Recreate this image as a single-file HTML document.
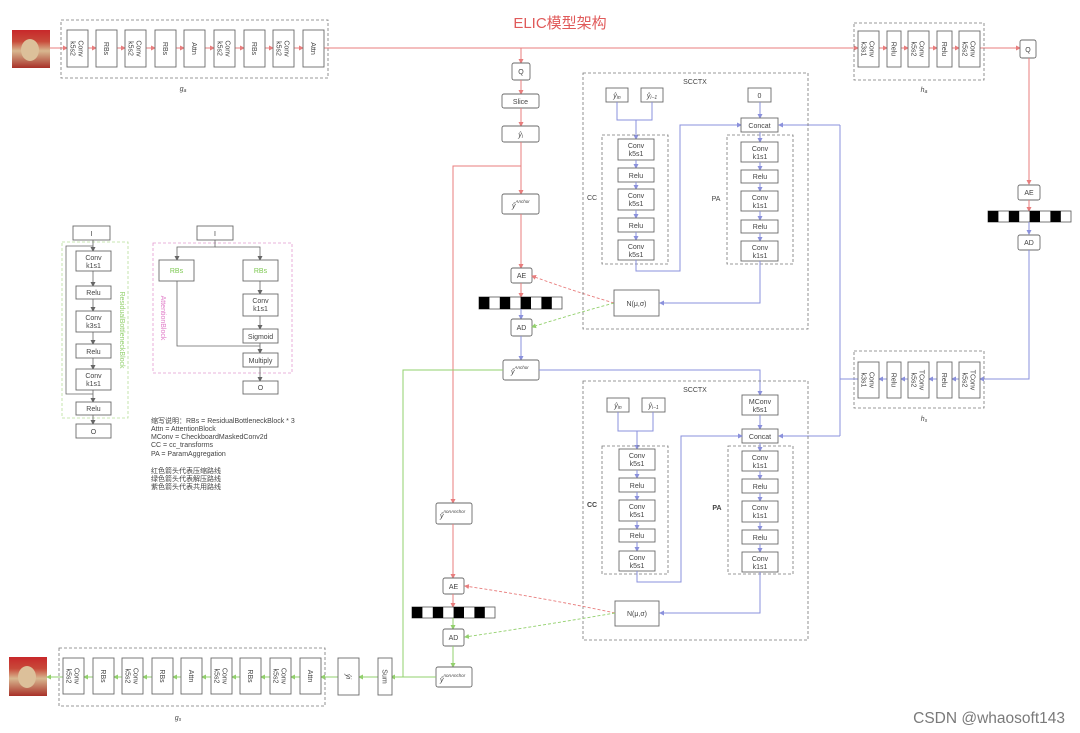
<!DOCTYPE html>
<html><head><meta charset="utf-8"><style>
html,body{margin:0;padding:0;background:#fff;}
svg{display:block;}
text{font-family:"Liberation Sans","Noto Sans CJK SC",sans-serif;fill:#444;}
.b{fill:#fff;stroke:#6a6a6a;stroke-width:0.9;}
.d{fill:none;stroke:#777;stroke-width:0.8;stroke-dasharray:3 2;}
.t{font-size:7px;text-anchor:middle;}
.r{stroke:#e87d7d;stroke-width:1;fill:none;}
.u{stroke:#8a90dc;stroke-width:1;fill:none;}
.g{stroke:#92d06c;stroke-width:1;fill:none;}
</style></head><body>
<svg width="1080" height="733" viewBox="0 0 1080 733" xmlns="http://www.w3.org/2000/svg">
<defs>
<marker id="mr" markerWidth="5" markerHeight="5" refX="4" refY="2.5" orient="auto" markerUnits="userSpaceOnUse"><path d="M0,0 L5,2.5 L0,5z" fill="#e87d7d"/></marker>
<marker id="mu" markerWidth="5" markerHeight="5" refX="4" refY="2.5" orient="auto" markerUnits="userSpaceOnUse"><path d="M0,0 L5,2.5 L0,5z" fill="#8a90dc"/></marker>
<marker id="mg" markerWidth="5" markerHeight="5" refX="4" refY="2.5" orient="auto" markerUnits="userSpaceOnUse"><path d="M0,0 L5,2.5 L0,5z" fill="#92d06c"/></marker>
<marker id="mk" markerWidth="5" markerHeight="5" refX="4" refY="2.5" orient="auto" markerUnits="userSpaceOnUse"><path d="M0,0 L5,2.5 L0,5z" fill="#666"/></marker>
<linearGradient id="face" x1="0" y1="0" x2="0" y2="1"><stop offset="0" stop-color="#c8282a"/><stop offset="0.3" stop-color="#c84a3a"/><stop offset="0.55" stop-color="#d8b890"/><stop offset="1" stop-color="#a83028"/></linearGradient>
</defs>

<text x="560" y="28" style="font-size:15px;fill:#e05a5a;text-anchor:middle">ELIC模型架构</text>

<rect x="12" y="30" width="38" height="38" fill="url(#face)"/>
<ellipse cx="30" cy="50" rx="9" ry="11" fill="#dcc09a"/>
<rect x="9" y="657" width="38" height="39" fill="url(#face)"/>
<ellipse cx="27" cy="677" rx="9" ry="11" fill="#dcc09a"/>

<rect class="d" x="61" y="20" width="267" height="58"/>
<text x="183" y="91" class="t" style="font-style:italic">g<tspan style="font-size:5px" dy="1">a</tspan></text>
<g class="r">
<line x1="50" y1="48" x2="67" y2="48" marker-end="url(#mr)"/>
<line x1="88" y1="48" x2="96" y2="48" marker-end="url(#mr)"/>
<line x1="117" y1="48" x2="125" y2="48" marker-end="url(#mr)"/>
<line x1="146" y1="48" x2="155" y2="48" marker-end="url(#mr)"/>
<line x1="176" y1="48" x2="184" y2="48" marker-end="url(#mr)"/>
<line x1="205" y1="48" x2="214" y2="48" marker-end="url(#mr)"/>
<line x1="235" y1="48" x2="244" y2="48" marker-end="url(#mr)"/>
<line x1="265" y1="48" x2="273" y2="48" marker-end="url(#mr)"/>
<line x1="294" y1="48" x2="303" y2="48" marker-end="url(#mr)"/>
<line x1="324" y1="48" x2="858" y2="48" marker-end="url(#mr)"/>
<line x1="879" y1="48" x2="887" y2="48" marker-end="url(#mr)"/>
<line x1="901" y1="48" x2="908" y2="48" marker-end="url(#mr)"/>
<line x1="929" y1="48" x2="937" y2="48" marker-end="url(#mr)"/>
<line x1="952" y1="48" x2="959" y2="48" marker-end="url(#mr)"/>
<line x1="980" y1="48" x2="1020" y2="48" marker-end="url(#mr)"/>
</g>
<g>
<rect class="b" x="67" y="30" width="21" height="37"/><rect class="b" x="96" y="30" width="21" height="37"/>
<rect class="b" x="125" y="30" width="21" height="37"/><rect class="b" x="155" y="30" width="21" height="37"/>
<rect class="b" x="184" y="30" width="21" height="37"/><rect class="b" x="214" y="30" width="21" height="37"/>
<rect class="b" x="244" y="30" width="21" height="37"/><rect class="b" x="273" y="30" width="21" height="37"/>
<rect class="b" x="303" y="30" width="21" height="37"/>
</g>
<g class="t">
<text transform="translate(77.5,48.5) rotate(90)"><tspan x="0" y="-1">Conv</tspan><tspan x="0" y="7">k5s2</tspan></text>
<text transform="translate(106.5,48.5) rotate(90)" y="2.5">RBs</text>
<text transform="translate(135.5,48.5) rotate(90)"><tspan x="0" y="-1">Conv</tspan><tspan x="0" y="7">k5s2</tspan></text>
<text transform="translate(165.5,48.5) rotate(90)" y="2.5">RBs</text>
<text transform="translate(194.5,48.5) rotate(90)" y="2.5">Attn</text>
<text transform="translate(224.5,48.5) rotate(90)"><tspan x="0" y="-1">Conv</tspan><tspan x="0" y="7">k5s2</tspan></text>
<text transform="translate(254.5,48.5) rotate(90)" y="2.5">RBs</text>
<text transform="translate(283.5,48.5) rotate(90)"><tspan x="0" y="-1">Conv</tspan><tspan x="0" y="7">k5s2</tspan></text>
<text transform="translate(313.5,48.5) rotate(90)" y="2.5">Attn</text>
</g>

<rect class="d" x="854" y="23" width="130" height="57"/>
<text x="924" y="92" class="t" style="font-style:italic">h<tspan style="font-size:5px" dy="1">a</tspan></text>
<rect class="b" x="858" y="31" width="21" height="36"/><rect class="b" x="887" y="31" width="14" height="36"/>
<rect class="b" x="908" y="31" width="21" height="36"/><rect class="b" x="937" y="31" width="15" height="36"/>
<rect class="b" x="959" y="31" width="21" height="36"/>
<g class="t">
<text transform="translate(868.5,49) rotate(90)"><tspan x="0" y="-1">Conv</tspan><tspan x="0" y="7">k3s1</tspan></text>
<text transform="translate(894,49) rotate(90)" y="2.5">Relu</text>
<text transform="translate(918.5,49) rotate(90)"><tspan x="0" y="-1">Conv</tspan><tspan x="0" y="7">k5s2</tspan></text>
<text transform="translate(944.5,49) rotate(90)" y="2.5">Relu</text>
<text transform="translate(969.5,49) rotate(90)"><tspan x="0" y="-1">Conv</tspan><tspan x="0" y="7">k5s2</tspan></text>
</g>
<rect class="b" x="1020" y="40" width="16" height="18" rx="2"/><text x="1028" y="52" class="t">Q</text>

<line class="r" x1="1029" y1="58" x2="1029" y2="184" marker-end="url(#mr)"/>
<rect class="b" x="1018" y="185" width="22" height="15" rx="2"/><text x="1029" y="195" class="t">AE</text>
<line class="r" x1="1029" y1="200" x2="1029" y2="211" marker-end="url(#mr)"/>
<g>
<rect x="988" y="211" width="83" height="11" fill="#fff" stroke="#555" stroke-width="0.8"/>
<rect x="988" y="211" width="10.4" height="11" fill="#000"/><rect x="1008.8" y="211" width="10.4" height="11" fill="#000"/>
<rect x="1029.6" y="211" width="10.4" height="11" fill="#000"/><rect x="1050.4" y="211" width="10.4" height="11" fill="#000"/>
</g>
<line class="u" x1="1029" y1="222" x2="1029" y2="234" marker-end="url(#mu)"/>
<rect class="b" x="1018" y="235" width="22" height="15" rx="2"/><text x="1029" y="245" class="t">AD</text>
<polyline class="u" points="1029,250 1029,379 984,379"/>

<rect class="d" x="854" y="351" width="130" height="57"/>
<text x="924" y="421" class="t" style="font-style:italic">h<tspan style="font-size:5px" dy="1">s</tspan></text>
<g class="u">
<line x1="984" y1="379" x2="980" y2="379" marker-end="url(#mu)"/>
<line x1="959" y1="379" x2="952" y2="379" marker-end="url(#mu)"/>
<line x1="937" y1="379" x2="929" y2="379" marker-end="url(#mu)"/>
<line x1="908" y1="379" x2="901" y2="379" marker-end="url(#mu)"/>
<line x1="887" y1="379" x2="879" y2="379" marker-end="url(#mu)"/>
<polyline points="858,379 840,379"/>
<polyline points="840,125 840,436"/>
<line x1="840" y1="125" x2="779" y2="125" marker-end="url(#mu)"/>
<line x1="840" y1="436" x2="779" y2="436" marker-end="url(#mu)"/>
</g>
<rect class="b" x="858" y="362" width="21" height="36"/><rect class="b" x="887" y="362" width="14" height="36"/>
<rect class="b" x="908" y="362" width="21" height="36"/><rect class="b" x="937" y="362" width="15" height="36"/>
<rect class="b" x="959" y="362" width="21" height="36"/>
<g class="t">
<text transform="translate(868.5,380) rotate(90)"><tspan x="0" y="-1">Conv</tspan><tspan x="0" y="7">k3s1</tspan></text>
<text transform="translate(894,380) rotate(90)" y="2.5">Relu</text>
<text transform="translate(918.5,380) rotate(90)"><tspan x="0" y="-1">TConv</tspan><tspan x="0" y="7">k5s2</tspan></text>
<text transform="translate(944.5,380) rotate(90)" y="2.5">Relu</text>
<text transform="translate(969.5,380) rotate(90)"><tspan x="0" y="-1">TConv</tspan><tspan x="0" y="7">k5s2</tspan></text>
</g>

<line class="r" x1="521" y1="48" x2="521" y2="63" marker-end="url(#mr)"/>
<rect class="b" x="512" y="63" width="18" height="17" rx="2"/><text x="521" y="74" class="t">Q</text>
<line class="r" x1="521" y1="80" x2="521" y2="94" marker-end="url(#mr)"/>
<rect class="b" x="502" y="94" width="37" height="14" rx="2"/><text x="520.5" y="104" class="t">Slice</text>
<line class="r" x1="521" y1="108" x2="521" y2="126" marker-end="url(#mr)"/>
<rect class="b" x="502" y="126" width="37" height="16" rx="2"/><text x="520.5" y="137" class="t" style="font-style:italic">ŷ<tspan style="font-size:5px" dy="1">i</tspan></text>
<line class="r" x1="521" y1="142" x2="521" y2="194" marker-end="url(#mr)"/>
<polyline class="r" points="521,166 453,166 453,503" marker-end="url(#mr)"/>
<rect class="b" x="502" y="194" width="37" height="20" rx="2"/><text x="512" y="208" style="font-size:7px;font-style:italic">ŷ<tspan style="font-size:4.5px" dy="-5">Anchor</tspan></text>
<line class="r" x1="521" y1="214" x2="521" y2="268" marker-end="url(#mr)"/>
<rect class="b" x="511" y="268" width="21" height="15" rx="2"/><text x="521.5" y="278" class="t">AE</text>
<line class="r" x1="521" y1="283" x2="521" y2="297" marker-end="url(#mr)"/>
<g>
<rect x="479" y="297" width="83" height="12" fill="#fff" stroke="#555" stroke-width="0.8"/>
<rect x="479" y="297" width="10.4" height="12" fill="#000"/><rect x="499.8" y="297" width="10.4" height="12" fill="#000"/>
<rect x="520.6" y="297" width="10.4" height="12" fill="#000"/><rect x="541.4" y="297" width="10.4" height="12" fill="#000"/>
</g>
<line class="u" x1="521" y1="309" x2="521" y2="319" marker-end="url(#mu)"/>
<rect class="b" x="511" y="319" width="21" height="17" rx="2"/><text x="521.5" y="330" class="t">AD</text>
<line class="u" x1="521" y1="336" x2="521" y2="360" marker-end="url(#mu)"/>
<rect class="b" x="503" y="360" width="36" height="20" rx="2"/><text x="511" y="374" style="font-size:7px;font-style:italic">ŷ<tspan style="font-size:4.5px" dy="-5">Anchor</tspan></text>
<polyline class="g" points="503,370 403,370 403,677"/>
<polyline class="u" points="539,370 760,370 760,395" marker-end="url(#mu)"/>
<path d="M614,303 Q570,290 532,276" fill="none" stroke="#e87d7d" stroke-width="0.9" stroke-dasharray="3 2" marker-end="url(#mr)"/>
<path d="M614,303 Q570,315 532,327" fill="none" stroke="#92d06c" stroke-width="0.9" stroke-dasharray="3 2" marker-end="url(#mg)"/>

<rect class="d" x="583" y="73" width="225" height="256"/>
<text x="695" y="84" class="t">SCCTX</text>
<rect class="b" x="606" y="88" width="22" height="14"/><text x="617" y="98" class="t" style="font-style:italic">ŷ<tspan style="font-size:5px" dy="1">in</tspan></text>
<rect class="b" x="641" y="88" width="22" height="14"/><text x="652" y="98" class="t" style="font-style:italic">ŷ<tspan style="font-size:5px" dy="1">i−1</tspan></text>
<polyline class="u" points="617,102 617,120 652,120 652,102"/>
<line class="u" x1="636" y1="120" x2="636" y2="139" marker-end="url(#mu)"/>
<rect class="d" x="602" y="135" width="66" height="129"/>
<text x="592" y="200" class="t">CC</text>
<rect class="b" x="618" y="139" width="36" height="21"/><text x="636" y="148" class="t"><tspan x="636">Conv</tspan><tspan x="636" dy="8">k5s1</tspan></text>
<line class="u" x1="636" y1="160" x2="636" y2="168" marker-end="url(#mu)"/>
<rect class="b" x="618" y="168" width="36" height="14"/><text x="636" y="178" class="t">Relu</text>
<line class="u" x1="636" y1="182" x2="636" y2="189" marker-end="url(#mu)"/>
<rect class="b" x="618" y="189" width="36" height="21"/><text x="636" y="198" class="t"><tspan x="636">Conv</tspan><tspan x="636" dy="8">k5s1</tspan></text>
<line class="u" x1="636" y1="210" x2="636" y2="218" marker-end="url(#mu)"/>
<rect class="b" x="618" y="218" width="36" height="14"/><text x="636" y="228" class="t">Relu</text>
<line class="u" x1="636" y1="232" x2="636" y2="240" marker-end="url(#mu)"/>
<rect class="b" x="618" y="240" width="36" height="20"/><text x="636" y="249" class="t"><tspan x="636">Conv</tspan><tspan x="636" dy="8">k5s1</tspan></text>
<polyline class="u" points="636,260 636,271 680,271 680,125 741,125" marker-end="url(#mu)"/>
<rect class="b" x="748" y="88" width="23" height="14"/><text x="759.5" y="98" class="t">0</text>
<line class="u" x1="760" y1="102" x2="760" y2="118" marker-end="url(#mu)"/>
<rect class="b" x="741" y="118" width="37" height="14"/><text x="759.5" y="128" class="t">Concat</text>
<rect class="d" x="727" y="135" width="66" height="129"/>
<text x="716" y="201" class="t">PA</text>
<line class="u" x1="760" y1="132" x2="760" y2="142" marker-end="url(#mu)"/>
<rect class="b" x="741" y="142" width="37" height="20"/><text x="760" y="151" class="t"><tspan x="760">Conv</tspan><tspan x="760" dy="8">k1s1</tspan></text>
<line class="u" x1="760" y1="162" x2="760" y2="170" marker-end="url(#mu)"/>
<rect class="b" x="741" y="170" width="37" height="13"/><text x="760" y="179" class="t">Relu</text>
<line class="u" x1="760" y1="183" x2="760" y2="191" marker-end="url(#mu)"/>
<rect class="b" x="741" y="191" width="37" height="20"/><text x="760" y="200" class="t"><tspan x="760">Conv</tspan><tspan x="760" dy="8">k1s1</tspan></text>
<line class="u" x1="760" y1="211" x2="760" y2="220" marker-end="url(#mu)"/>
<rect class="b" x="741" y="220" width="37" height="13"/><text x="760" y="229" class="t">Relu</text>
<line class="u" x1="760" y1="233" x2="760" y2="241" marker-end="url(#mu)"/>
<rect class="b" x="741" y="241" width="37" height="20"/><text x="760" y="250" class="t"><tspan x="760">Conv</tspan><tspan x="760" dy="8">k1s1</tspan></text>
<polyline class="u" points="760,261 760,303 660,303" marker-end="url(#mu)"/>
<rect class="b" x="614" y="290" width="45" height="26"/><text x="636.5" y="306" class="t">N(μ,σ)</text>

<rect class="d" x="583" y="381" width="225" height="259"/>
<text x="695" y="392" class="t">SCCTX</text>
<rect class="b" x="742" y="395" width="36" height="20"/><text x="760" y="404" class="t"><tspan x="760">MConv</tspan><tspan x="760" dy="8">k5s1</tspan></text>
<line class="u" x1="760" y1="415" x2="760" y2="429" marker-end="url(#mu)"/>
<rect class="b" x="742" y="429" width="36" height="14"/><text x="760" y="439" class="t">Concat</text>
<rect class="b" x="607" y="398" width="22" height="14"/><text x="618" y="408" class="t" style="font-style:italic">ŷ<tspan style="font-size:5px" dy="1">in</tspan></text>
<rect class="b" x="642" y="398" width="23" height="14"/><text x="653.5" y="408" class="t" style="font-style:italic">ŷ<tspan style="font-size:5px" dy="1">i−1</tspan></text>
<polyline class="u" points="618,412 618,431 653,431 653,412"/>
<line class="u" x1="637" y1="431" x2="637" y2="449" marker-end="url(#mu)"/>
<rect class="d" x="602" y="446" width="66" height="128"/>
<text x="592" y="507" class="t" style="font-weight:bold">CC</text>
<rect class="b" x="619" y="449" width="36" height="21"/><text x="637" y="458" class="t"><tspan x="637">Conv</tspan><tspan x="637" dy="8">k5s1</tspan></text>
<line class="u" x1="637" y1="470" x2="637" y2="478" marker-end="url(#mu)"/>
<rect class="b" x="619" y="478" width="36" height="14"/><text x="637" y="488" class="t">Relu</text>
<line class="u" x1="637" y1="492" x2="637" y2="500" marker-end="url(#mu)"/>
<rect class="b" x="619" y="500" width="36" height="21"/><text x="637" y="509" class="t"><tspan x="637">Conv</tspan><tspan x="637" dy="8">k5s1</tspan></text>
<line class="u" x1="637" y1="521" x2="637" y2="529" marker-end="url(#mu)"/>
<rect class="b" x="619" y="529" width="36" height="13"/><text x="637" y="538" class="t">Relu</text>
<line class="u" x1="637" y1="542" x2="637" y2="551" marker-end="url(#mu)"/>
<rect class="b" x="619" y="551" width="36" height="20"/><text x="637" y="560" class="t"><tspan x="637">Conv</tspan><tspan x="637" dy="8">k5s1</tspan></text>
<polyline class="u" points="637,571 637,582 681,582 681,436 742,436" marker-end="url(#mu)"/>
<rect class="d" x="728" y="446" width="65" height="128"/>
<text x="717" y="510" class="t" style="font-weight:bold">PA</text>
<line class="u" x1="760" y1="443" x2="760" y2="451" marker-end="url(#mu)"/>
<rect class="b" x="742" y="451" width="36" height="20"/><text x="760" y="460" class="t"><tspan x="760">Conv</tspan><tspan x="760" dy="8">k1s1</tspan></text>
<line class="u" x1="760" y1="471" x2="760" y2="479" marker-end="url(#mu)"/>
<rect class="b" x="742" y="479" width="36" height="14"/><text x="760" y="489" class="t">Relu</text>
<line class="u" x1="760" y1="493" x2="760" y2="501" marker-end="url(#mu)"/>
<rect class="b" x="742" y="501" width="36" height="21"/><text x="760" y="510" class="t"><tspan x="760">Conv</tspan><tspan x="760" dy="8">k1s1</tspan></text>
<line class="u" x1="760" y1="522" x2="760" y2="530" marker-end="url(#mu)"/>
<rect class="b" x="742" y="530" width="36" height="14"/><text x="760" y="540" class="t">Relu</text>
<line class="u" x1="760" y1="544" x2="760" y2="552" marker-end="url(#mu)"/>
<rect class="b" x="742" y="552" width="36" height="20"/><text x="760" y="561" class="t"><tspan x="760">Conv</tspan><tspan x="760" dy="8">k1s1</tspan></text>
<polyline class="u" points="760,572 760,613 660,613" marker-end="url(#mu)"/>
<rect class="b" x="615" y="601" width="44" height="25"/><text x="637" y="616" class="t">N(μ,σ)</text>
<path d="M615,613 Q545,598 465,586" fill="none" stroke="#e87d7d" stroke-width="0.9" stroke-dasharray="3 2" marker-end="url(#mr)"/>
<path d="M615,613 Q545,625 465,637" fill="none" stroke="#92d06c" stroke-width="0.9" stroke-dasharray="3 2" marker-end="url(#mg)"/>

<rect class="b" x="436" y="503" width="36" height="21" rx="2"/><text x="440" y="518" style="font-size:7px;font-style:italic">ŷ<tspan style="font-size:4.5px" dy="-5">nonAnchor</tspan></text>
<line class="r" x1="453" y1="524" x2="453" y2="578" marker-end="url(#mr)"/>
<rect class="b" x="443" y="578" width="21" height="16" rx="2"/><text x="453.5" y="589" class="t">AE</text>
<line class="r" x1="453" y1="594" x2="453" y2="607" marker-end="url(#mr)"/>
<g>
<rect x="412" y="607" width="83" height="11" fill="#fff" stroke="#555" stroke-width="0.8"/>
<rect x="412" y="607" width="10.4" height="11" fill="#000"/><rect x="432.8" y="607" width="10.4" height="11" fill="#000"/>
<rect x="453.6" y="607" width="10.4" height="11" fill="#000"/><rect x="474.4" y="607" width="10.4" height="11" fill="#000"/>
</g>
<line class="g" x1="453" y1="618" x2="453" y2="629" marker-end="url(#mg)"/>
<rect class="b" x="443" y="629" width="21" height="17" rx="2"/><text x="453.5" y="640" class="t">AD</text>
<line class="g" x1="453" y1="646" x2="453" y2="667" marker-end="url(#mg)"/>
<rect class="b" x="436" y="667" width="36" height="20" rx="2"/><text x="440" y="682" style="font-size:7px;font-style:italic">ŷ<tspan style="font-size:4.5px" dy="-5">nonAnchor</tspan></text>

<rect class="d" x="59" y="648" width="266" height="58"/>
<text x="178" y="720" class="t" style="font-style:italic">g<tspan style="font-size:5px" dy="1">s</tspan></text>
<g class="g">
<line x1="436" y1="677" x2="391" y2="677" marker-end="url(#mg)"/>
<line x1="378" y1="677" x2="359" y2="677" marker-end="url(#mg)"/>
<line x1="338" y1="677" x2="321" y2="677" marker-end="url(#mg)"/>
<line x1="300" y1="677" x2="291" y2="677" marker-end="url(#mg)"/>
<line x1="270" y1="677" x2="261" y2="677" marker-end="url(#mg)"/>
<line x1="240" y1="677" x2="232" y2="677" marker-end="url(#mg)"/>
<line x1="211" y1="677" x2="202" y2="677" marker-end="url(#mg)"/>
<line x1="181" y1="677" x2="173" y2="677" marker-end="url(#mg)"/>
<line x1="152" y1="677" x2="143" y2="677" marker-end="url(#mg)"/>
<line x1="122" y1="677" x2="114" y2="677" marker-end="url(#mg)"/>
<line x1="93" y1="677" x2="84" y2="677" marker-end="url(#mg)"/>
<line x1="63" y1="677" x2="47" y2="677" marker-end="url(#mg)"/>
</g>
<rect class="b" x="63" y="658" width="21" height="36"/><rect class="b" x="93" y="658" width="21" height="36"/>
<rect class="b" x="122" y="658" width="21" height="36"/><rect class="b" x="152" y="658" width="21" height="36"/>
<rect class="b" x="181" y="658" width="21" height="36"/><rect class="b" x="211" y="658" width="21" height="36"/>
<rect class="b" x="240" y="658" width="21" height="36"/><rect class="b" x="270" y="658" width="21" height="36"/>
<rect class="b" x="300" y="658" width="21" height="36"/>
<rect class="b" x="338" y="658" width="21" height="37"/><rect class="b" x="378" y="658" width="14" height="37"/>
<g class="t">
<text transform="translate(73.5,676) rotate(90)"><tspan x="0" y="-1">Conv</tspan><tspan x="0" y="7">k5s2</tspan></text>
<text transform="translate(103.5,676) rotate(90)" y="2.5">RBs</text>
<text transform="translate(132.5,676) rotate(90)"><tspan x="0" y="-1">Conv</tspan><tspan x="0" y="7">k5s2</tspan></text>
<text transform="translate(162.5,676) rotate(90)" y="2.5">RBs</text>
<text transform="translate(191.5,676) rotate(90)" y="2.5">Attn</text>
<text transform="translate(221.5,676) rotate(90)"><tspan x="0" y="-1">Conv</tspan><tspan x="0" y="7">k5s2</tspan></text>
<text transform="translate(250.5,676) rotate(90)" y="2.5">RBs</text>
<text transform="translate(280.5,676) rotate(90)"><tspan x="0" y="-1">Conv</tspan><tspan x="0" y="7">k5s2</tspan></text>
<text transform="translate(310.5,676) rotate(90)" y="2.5">Attn</text>
<text transform="translate(348.5,676.5) rotate(90)" y="2.5" style="font-style:italic">ŷi</text>
<text transform="translate(385,676.5) rotate(90)" y="2.5">Sum</text>
</g>

<rect class="b" x="73" y="226" width="37" height="14"/><text x="91.5" y="236" class="t">I</text>
<rect x="62" y="242" width="66" height="176" fill="none" stroke="#b8e09a" stroke-width="0.8" stroke-dasharray="3 2"/>
<text transform="translate(120,330) rotate(90)" class="t" style="fill:#92d06c">ResidualBottleneckBlock</text>
<g stroke="#666" stroke-width="0.8" fill="none">
<line x1="93" y1="240" x2="93" y2="251" marker-end="url(#mk)"/>
<polyline points="93,246 66,246 66,394 93,394"/>
<line x1="93" y1="271" x2="93" y2="286" marker-end="url(#mk)"/>
<line x1="93" y1="299" x2="93" y2="311" marker-end="url(#mk)"/>
<line x1="93" y1="332" x2="93" y2="344" marker-end="url(#mk)"/>
<line x1="93" y1="358" x2="93" y2="369" marker-end="url(#mk)"/>
<line x1="93" y1="390" x2="93" y2="402" marker-end="url(#mk)"/>
<line x1="93" y1="415" x2="93" y2="424" marker-end="url(#mk)"/>
</g>
<rect class="b" x="76" y="251" width="35" height="20"/><text x="93.5" y="260" class="t"><tspan x="93.5">Conv</tspan><tspan x="93.5" dy="8">k1s1</tspan></text>
<rect class="b" x="76" y="286" width="35" height="13"/><text x="93.5" y="295" class="t">Relu</text>
<rect class="b" x="76" y="311" width="35" height="21"/><text x="93.5" y="320" class="t"><tspan x="93.5">Conv</tspan><tspan x="93.5" dy="8">k3s1</tspan></text>
<rect class="b" x="76" y="344" width="35" height="14"/><text x="93.5" y="354" class="t">Relu</text>
<rect class="b" x="76" y="369" width="35" height="21"/><text x="93.5" y="378" class="t"><tspan x="93.5">Conv</tspan><tspan x="93.5" dy="8">k1s1</tspan></text>
<rect class="b" x="76" y="402" width="35" height="13"/><text x="93.5" y="411" class="t">Relu</text>
<rect class="b" x="76" y="424" width="35" height="14"/><text x="93.5" y="434" class="t">O</text>

<rect class="b" x="197" y="226" width="36" height="14"/><text x="215" y="236" class="t">I</text>
<rect x="153" y="243" width="139" height="130" fill="none" stroke="#e39ad0" stroke-width="0.8" stroke-dasharray="3 2"/>
<text transform="translate(161,318) rotate(90)" class="t" style="fill:#e07cc8">AttentionBlock</text>
<g stroke="#666" stroke-width="0.8" fill="none">
<polyline points="215,240 215,247 177,247 177,260" marker-end="url(#mk)"/>
<polyline points="215,247 260,247 260,260" marker-end="url(#mk)"/>
<polyline points="177,281 177,346 260,346"/>
<line x1="260" y1="281" x2="260" y2="294" marker-end="url(#mk)"/>
<line x1="260" y1="316" x2="260" y2="329" marker-end="url(#mk)"/>
<line x1="260" y1="343" x2="260" y2="353" marker-end="url(#mk)"/>
<line x1="260" y1="367" x2="260" y2="381" marker-end="url(#mk)"/>
</g>
<rect class="b" x="159" y="260" width="35" height="21"/><text x="176.5" y="273" class="t" style="fill:#7cc850">RBs</text>
<rect class="b" x="243" y="260" width="35" height="21"/><text x="260.5" y="273" class="t" style="fill:#7cc850">RBs</text>
<rect class="b" x="243" y="294" width="35" height="22"/><text x="260.5" y="303" class="t"><tspan x="260.5">Conv</tspan><tspan x="260.5" dy="8">k1s1</tspan></text>
<rect class="b" x="243" y="329" width="35" height="14"/><text x="260.5" y="339" class="t">Sigmoid</text>
<rect class="b" x="243" y="353" width="35" height="14"/><text x="260.5" y="363" class="t">Multiply</text>
<rect class="b" x="243" y="381" width="35" height="13"/><text x="260.5" y="390" class="t">O</text>

<g style="font-size:7px">
<text x="151" y="423">缩写说明：RBs = ResidualBottleneckBlock * 3</text>
<text x="151" y="431">Attn = AttentionBlock</text>
<text x="151" y="439">MConv = CheckboardMaskedConv2d</text>
<text x="151" y="447">CC = cc_transforms</text>
<text x="151" y="456">PA = ParamAggregation</text>
<text x="151" y="473">红色箭头代表压缩路线</text>
<text x="151" y="481">绿色箭头代表解压路线</text>
<text x="151" y="489">紫色箭头代表共用路线</text>
</g>

<text x="1065" y="723" style="font-size:15.5px;fill:#7a7a7a;text-anchor:end">CSDN @whaosoft143</text>
</svg>
</body></html>
